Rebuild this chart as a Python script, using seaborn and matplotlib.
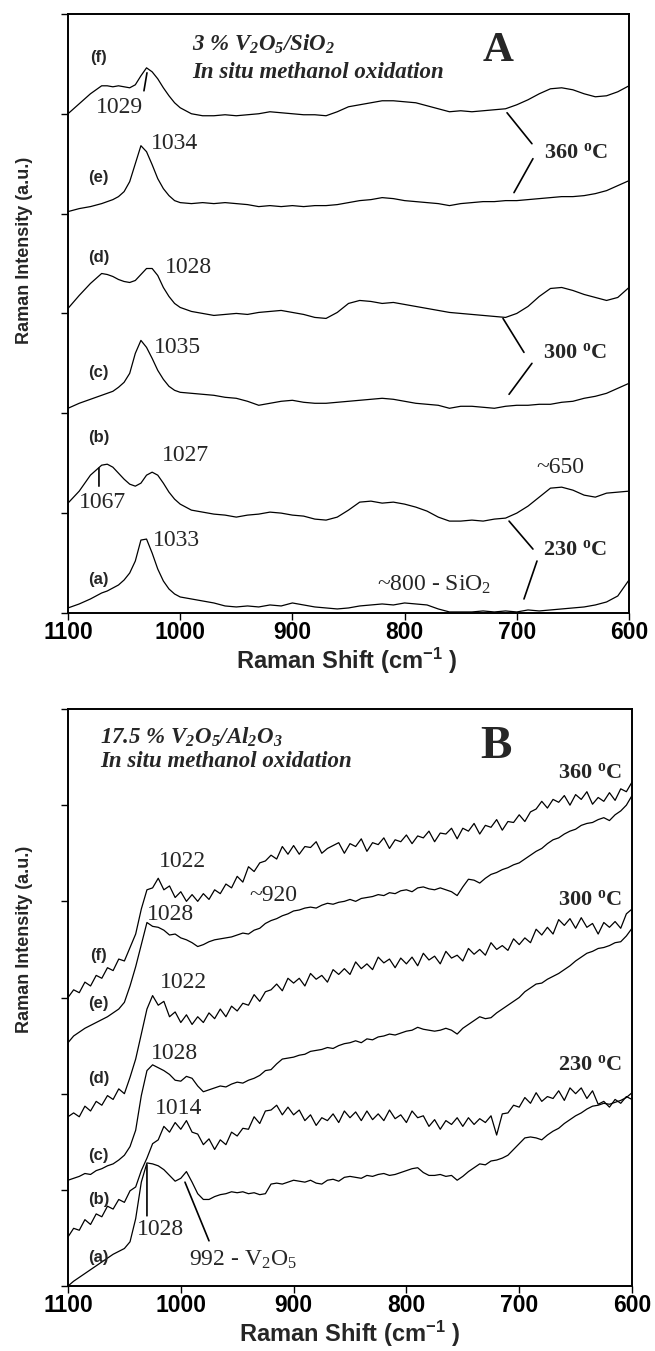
import matplotlib
matplotlib.use('Agg')
import matplotlib.pyplot as plt
from matplotlib import font_manager
import seaborn as sns
import pandas as pd

sns.set_theme(style='ticks')
plt.rcParams['font.family'] = ['Liberation Sans', 'DejaVu Sans']

# ---------------- panel A : 3 % V2O5/SiO2 ----------------
# Raman shift grid (cm-1) the spectra were read at
WA = [1100, 1090, 1080, 1070,
      1065, 1060, 1055, 1050, 1045, 1040, 1035, 1030, 1025, 1020, 1015, 1010, 1005, 1000,
      990, 980, 970, 960, 950, 940, 930, 920, 910, 900,
      890, 880, 870, 860, 850, 840, 830, 820, 810, 800,
      790, 780, 770, 760, 750, 740, 730, 720, 710, 700,
      690, 680, 670, 660, 650, 640, 630, 620, 610, 600]

A_a = [0.05, 0.09, 0.14, 0.20,
       0.22, 0.25, 0.28, 0.33, 0.40, 0.52, 0.73, 0.74, 0.60, 0.44, 0.32, 0.24, 0.19, 0.16,
       0.14, 0.12, 0.10, 0.07, 0.06, 0.07, 0.06, 0.08, 0.07, 0.10,
       0.08, 0.06, 0.05, 0.04, 0.05, 0.07, 0.08, 0.09, 0.08, 0.10,
       0.09, 0.08, 0.04, 0.01, 0.01, 0.01, 0.02, 0.01, 0.02, 0.01,
       0.03, 0.02, 0.03, 0.04, 0.05, 0.06, 0.08, 0.11, 0.17, 0.33]
A_b = [1.10, 1.22, 1.38, 1.48,
       1.49, 1.46, 1.40, 1.34, 1.29, 1.27, 1.30, 1.38, 1.41, 1.38, 1.30, 1.21, 1.14, 1.09,
       1.03, 1.01, 0.99, 0.98, 0.96, 0.98, 0.99, 1.01, 1.00, 0.98,
       0.97, 0.94, 0.93, 0.96, 1.03, 1.11, 1.12, 1.10, 1.11, 1.09,
       1.06, 1.02, 0.96, 0.92, 0.92, 0.93, 0.92, 0.94, 0.95, 1.00,
       1.07, 1.16, 1.25, 1.26, 1.23, 1.18, 1.16, 1.20, 1.21, 1.22]
A_c = [2.05, 2.10, 2.14, 2.18,
       2.20, 2.22, 2.26, 2.31, 2.40, 2.60, 2.73, 2.66, 2.55, 2.43, 2.34, 2.27, 2.23, 2.21,
       2.20, 2.19, 2.18, 2.16, 2.15, 2.12, 2.08, 2.10, 2.12, 2.13,
       2.11, 2.10, 2.10, 2.11, 2.12, 2.13, 2.14, 2.15, 2.14, 2.12,
       2.10, 2.09, 2.08, 2.05, 2.07, 2.07, 2.06, 2.05, 2.07, 2.08,
       2.08, 2.09, 2.09, 2.11, 2.12, 2.15, 2.17, 2.20, 2.25, 2.30]
A_d = [3.05, 3.18, 3.30, 3.40,
       3.39, 3.37, 3.34, 3.32, 3.31, 3.33, 3.39, 3.45, 3.45, 3.38, 3.26, 3.17, 3.10, 3.06,
       3.02, 3.00, 2.98, 2.99, 3.00, 2.99, 3.01, 3.02, 3.03, 3.01,
       2.99, 2.96, 2.95, 3.01, 3.10, 3.13, 3.12, 3.10, 3.11, 3.09,
       3.07, 3.05, 3.03, 3.01, 3.00, 2.99, 2.98, 2.97, 2.96, 3.00,
       3.07, 3.17, 3.25, 3.26, 3.23, 3.19, 3.16, 3.13, 3.16, 3.26]
A_e = [4.02, 4.05, 4.07, 4.10,
       4.12, 4.14, 4.17, 4.22, 4.32, 4.50, 4.68, 4.62, 4.49, 4.35, 4.25, 4.18, 4.13, 4.11,
       4.10, 4.11, 4.10, 4.11, 4.10, 4.09, 4.07, 4.08, 4.07, 4.08,
       4.07, 4.08, 4.08, 4.09, 4.11, 4.13, 4.14, 4.16, 4.15, 4.13,
       4.12, 4.11, 4.10, 4.08, 4.10, 4.11, 4.12, 4.12, 4.13, 4.13,
       4.14, 4.15, 4.16, 4.17, 4.17, 4.18, 4.20, 4.23, 4.28, 4.33]
A_f = [5.00, 5.10, 5.20, 5.28,
       5.28, 5.27, 5.28, 5.27, 5.26, 5.29, 5.38, 5.46, 5.42, 5.35, 5.26, 5.18, 5.11, 5.06,
       5.00, 4.98, 4.98, 4.99, 4.98, 4.99, 5.00, 5.02, 5.01, 5.00,
       4.99, 4.99, 4.98, 5.02, 5.07, 5.09, 5.11, 5.13, 5.13, 5.12,
       5.11, 5.08, 5.05, 5.02, 5.03, 5.02, 5.03, 5.04, 5.05, 5.09,
       5.14, 5.20, 5.25, 5.26, 5.24, 5.20, 5.17, 5.18, 5.22, 5.28]

# ---------------- panel B : 17.5 % V2O5/Al2O3 ----------------
WB = [1100, 1095, 1090, 1085, 1080, 1075, 1070, 1065, 1060, 1055,
      1050, 1045, 1040, 1035, 1030, 1025, 1020, 1015, 1010, 1005,
      1000, 995, 990, 985, 980, 975, 970, 965, 960, 955,
      950, 945, 940, 935, 930, 925, 920, 915, 910, 905,
      900, 895, 890, 885, 880, 875, 870, 865, 860, 855,
      850, 845, 840, 835, 830, 825, 820, 815, 810, 805,
      800, 795, 790, 785, 780, 775, 770, 765, 760, 755,
      750, 745, 740, 735, 730, 725, 720, 715, 710, 705,
      700, 695, 690, 685, 680, 675, 670, 665, 660, 655,
      650, 645, 640, 635, 630, 625, 620, 615, 610, 605,
      600]

B_a = [0.00, 0.05, 0.09, 0.13, 0.17, 0.21, 0.25, 0.29, 0.33, 0.36,
       0.39, 0.46, 0.70, 1.08, 1.28, 1.27, 1.25, 1.21, 1.15, 1.09,
       1.12, 1.19, 1.08, 0.96, 0.90, 0.90, 0.93, 0.95, 0.96, 0.98,
       0.97, 0.98, 0.96, 0.97, 0.95, 0.96, 1.06, 1.07, 1.06, 1.08,
       1.10, 1.09, 1.08, 1.10, 1.07, 1.06, 1.10, 1.11, 1.09, 1.13,
       1.14, 1.13, 1.12, 1.15, 1.14, 1.16, 1.17, 1.15, 1.16, 1.18,
       1.20, 1.22, 1.23, 1.18, 1.15, 1.15, 1.16, 1.14, 1.15, 1.10,
       1.14, 1.19, 1.23, 1.27, 1.26, 1.30, 1.31, 1.33, 1.36, 1.42,
       1.48, 1.54, 1.55, 1.54, 1.52, 1.57, 1.61, 1.64, 1.69, 1.73,
       1.77, 1.80, 1.84, 1.87, 1.88, 1.90, 1.89, 1.91, 1.93, 1.96,
       2.01]
B_b = [0.51, 0.60, 0.58, 0.69, 0.64, 0.75, 0.72, 0.83, 0.80, 0.90,
       0.87, 0.99, 1.03, 1.20, 1.33, 1.48, 1.52, 1.66, 1.60, 1.70,
       1.63, 1.72, 1.60, 1.58, 1.47, 1.53, 1.42, 1.52, 1.47, 1.60,
       1.56, 1.64, 1.63, 1.76, 1.69, 1.82, 1.83, 1.88, 1.78, 1.86,
       1.78, 1.83, 1.72, 1.78, 1.67, 1.75, 1.72, 1.79, 1.70, 1.82,
       1.75, 1.81, 1.72, 1.82, 1.73, 1.79, 1.72, 1.83, 1.74, 1.78,
       1.70, 1.82, 1.75, 1.77, 1.66, 1.73, 1.63, 1.72, 1.68, 1.75,
       1.66, 1.75, 1.68, 1.74, 1.70, 1.77, 1.57, 1.79, 1.80, 1.88,
       1.86, 1.96, 1.90, 2.01, 1.92, 1.97, 1.95, 2.03, 1.93, 2.06,
       2.00, 2.06, 1.95, 2.03, 1.89, 1.92, 1.86, 1.94, 1.90, 1.97,
       1.94]
B_c = [1.10, 1.12, 1.14, 1.17, 1.16, 1.20, 1.22, 1.25, 1.27, 1.31,
       1.36, 1.45, 1.62, 1.98, 2.24, 2.30, 2.27, 2.24, 2.20, 2.14,
       2.13, 2.18, 2.16, 2.08, 2.02, 2.04, 2.06, 2.08, 2.07, 2.10,
       2.12, 2.11, 2.14, 2.16, 2.19, 2.24, 2.25, 2.31, 2.36, 2.37,
       2.38, 2.40, 2.41, 2.44, 2.45, 2.46, 2.48, 2.47, 2.50, 2.52,
       2.53, 2.55, 2.53, 2.57, 2.56, 2.59, 2.60, 2.62, 2.61, 2.63,
       2.65, 2.66, 2.69, 2.67, 2.66, 2.65, 2.66, 2.68, 2.66, 2.62,
       2.68, 2.72, 2.76, 2.80, 2.78, 2.79, 2.84, 2.88, 2.92, 2.96,
       3.00, 3.06, 3.10, 3.14, 3.15, 3.19, 3.22, 3.25, 3.29, 3.33,
       3.38, 3.42, 3.46, 3.48, 3.51, 3.52, 3.54, 3.57, 3.58, 3.64,
       3.72]
B_d = [1.76, 1.80, 1.76, 1.87, 1.82, 1.92, 1.88, 1.98, 1.94, 2.05,
       2.00, 2.17, 2.36, 2.62, 2.88, 3.02, 2.92, 2.96, 2.80, 2.85,
       2.74, 2.82, 2.72, 2.80, 2.74, 2.84, 2.78, 2.88, 2.80, 2.91,
       2.86, 2.94, 2.92, 3.03, 2.96, 3.06, 3.08, 3.14, 3.07, 3.20,
       3.15, 3.20, 3.12, 3.25, 3.19, 3.23, 3.16, 3.29, 3.24, 3.30,
       3.24, 3.37, 3.30, 3.35, 3.29, 3.42, 3.36, 3.40, 3.31, 3.41,
       3.35, 3.42, 3.33, 3.46, 3.39, 3.43, 3.35, 3.48, 3.41, 3.44,
       3.38, 3.51, 3.45, 3.50, 3.44, 3.57, 3.50, 3.54, 3.49, 3.61,
       3.55, 3.62, 3.57, 3.71, 3.65, 3.73, 3.66, 3.81, 3.75, 3.82,
       3.72, 3.83, 3.73, 3.77, 3.66, 3.78, 3.73, 3.79, 3.72, 3.87,
       3.92]
B_e = [2.53, 2.60, 2.64, 2.68, 2.71, 2.74, 2.77, 2.80, 2.84, 2.88,
       2.95, 3.12, 3.32, 3.55, 3.78, 3.74, 3.73, 3.70, 3.65, 3.66,
       3.62, 3.60, 3.57, 3.53, 3.55, 3.58, 3.60, 3.61, 3.62, 3.63,
       3.65, 3.67, 3.66, 3.70, 3.72, 3.77, 3.80, 3.82, 3.85, 3.87,
       3.90, 3.91, 3.93, 3.94, 3.93, 3.96, 3.98, 3.97, 3.99, 4.00,
       4.02, 4.00, 4.03, 4.04, 4.05, 4.07, 4.06, 4.09, 4.08, 4.11,
       4.12, 4.10, 4.14, 4.15, 4.13, 4.12, 4.14, 4.12, 4.10, 4.06,
       4.15, 4.23, 4.22, 4.19, 4.24, 4.28, 4.30, 4.33, 4.35, 4.38,
       4.40, 4.44, 4.48, 4.52, 4.55, 4.60, 4.64, 4.66, 4.70, 4.73,
       4.75, 4.79, 4.81, 4.82, 4.85, 4.87, 4.84, 4.90, 4.94, 5.00,
       5.10]
B_f = [3.00, 3.08, 3.05, 3.16, 3.12, 3.23, 3.20, 3.31, 3.28, 3.40,
       3.38, 3.52, 3.66, 3.92, 4.12, 4.14, 4.24, 4.12, 4.16, 4.04,
       4.10, 4.00, 4.07, 4.00, 4.08, 4.02, 4.12, 4.08, 4.18, 4.14,
       4.26, 4.20, 4.36, 4.31, 4.40, 4.42, 4.48, 4.44, 4.57, 4.49,
       4.58, 4.49, 4.57, 4.56, 4.62, 4.50, 4.55, 4.58, 4.61, 4.50,
       4.60, 4.57, 4.65, 4.52, 4.61, 4.59, 4.66, 4.55, 4.64, 4.62,
       4.69, 4.60, 4.68, 4.66, 4.73, 4.62, 4.71, 4.70, 4.76, 4.65,
       4.76, 4.73, 4.81, 4.70, 4.79, 4.77, 4.85, 4.74, 4.83, 4.82,
       4.90, 4.83, 4.93, 4.96, 5.04, 4.97, 5.06, 5.03, 5.10, 5.00,
       5.11, 5.06, 5.14, 5.01, 5.08, 5.04, 5.13, 5.05, 5.17, 5.14,
       5.24]

TRACES = ['a', 'b', 'c', 'd', 'e', 'f']


def long_frame(shift, spectra):
    rows = []
    for name, vals in zip(TRACES, spectra):
        rows.append(pd.DataFrame({'shift': shift, 'intensity': vals, 'trace': name}))
    return pd.concat(rows, ignore_index=True)


dfA = long_frame(WA, [A_a, A_b, A_c, A_d, A_e, A_f])
dfB = long_frame(WB, [B_a, B_b, B_c, B_d, B_e, B_f])

SERIF = ['Liberation Serif', 'DejaVu Serif']
SANS = ['Liberation Sans', 'DejaVu Sans']
installed = {f.name for f in font_manager.fontManager.ttflist}
if 'Liberation Sans Narrow' in installed:
    YLAB_FONT, YLAB_SIZE = ['Liberation Sans Narrow', 'DejaVu Sans'], 15
else:
    YLAB_FONT, YLAB_SIZE = SANS, 13

fig = plt.figure(figsize=(6.55, 13.51), dpi=100)
axA = fig.add_axes([0.1038, 0.5463, 0.8565, 0.4434])
axB = fig.add_axes([0.1038, 0.0481, 0.8611, 0.4271])

for ax, df in [(axA, dfA), (axB, dfB)]:
    sns.lineplot(data=df, x='shift', y='intensity', units='trace', estimator=None,
                 sort=False, color='black', linewidth=0.9, ax=ax)
    ax.set_xlim(1100, 600)
    ax.set_ylim(0, 6)
    ax.set_xticks([1100, 1000, 900, 800, 700, 600])
    ax.set_xticklabels(['1100', '1000', '900', '800', '700', '600'],
                       fontsize=16.5, fontweight='bold', family=SANS)
    ax.set_yticks(range(7))
    ax.set_yticklabels([])
    ax.tick_params(axis='x', direction='out', length=5, width=1, pad=1, colors='black')
    ax.tick_params(axis='y', direction='out', length=5, width=1, colors='black')
    for s in ax.spines.values():
        s.set_visible(True)
        s.set_linewidth(1.4)
        s.set_color('black')
    ax.set_xlabel('Raman Shift (cm$\\mathregular{^{-1}}$ )', fontsize=17,
                  fontweight='bold', family=SANS)
    ax.xaxis.label.set_va('center')
    ax.set_ylabel('Raman Intensity (a.u.)', fontsize=YLAB_SIZE, fontweight='bold',
                  family=YLAB_FONT)
    ax.yaxis.label.set_va('center')

axA.xaxis.set_label_coords(0.497, -0.0795)
axA.yaxis.set_label_coords(-0.077, 0.606)
axB.xaxis.set_label_coords(0.50, -0.083)
axB.yaxis.set_label_coords(-0.077, 0.60)


def tag(ax, x, y, s):
    ax.text(x, y, s, fontsize=12, fontweight='bold', family=SANS, ha='center', va='center')


def peak(ax, x, y, s, size=17):
    ax.text(x, y, s, fontsize=size, family=SERIF, ha='center', va='center')


def temp(ax, x, y, s, ha='center'):
    ax.text(x, y, s, fontsize=16, fontweight='bold', family=SERIF, ha=ha, va='center')


def pointer(ax, p0, p1):
    ax.annotate('', xy=p1, xytext=p0,
                arrowprops=dict(arrowstyle='-', color='black', lw=1.2, shrinkA=0, shrinkB=0))


def title(ax, x, y0, y1, line1):
    ax.text(x, y0, line1, fontsize=16.5, fontweight='bold', style='italic',
            family=SERIF, ha='left', va='center')
    ax.text(x, y1, 'In situ methanol oxidation', fontsize=16.5, fontweight='bold',
            style='italic', family=SERIF, ha='left', va='center')


DEG = '$\\mathregular{^o}$C'

# panel A annotations
for y, s in zip([0.34, 1.76, 2.41, 3.56, 4.36, 5.56], ['(a)', '(b)', '(c)', '(d)', '(e)', '(f)']):
    tag(axA, 1072.5, y, s)
peak(axA, 1054.5, 5.06, '1029')
peak(axA, 1004.6, 4.70, '1034')
peak(axA, 993, 3.46, '1028')
peak(axA, 1002, 2.66, '1035')
peak(axA, 995.7, 1.58, '1027')
peak(axA, 1069.7, 1.11, '1067')
peak(axA, 1002.9, 0.73, '1033')
peak(axA, 661.5, 1.46, '~650')
peak(axA, 773.8, 0.28, '~800 - SiO$\\mathregular{_2}$')
pointer(axA, (1032.3, 5.23), (1029.6, 5.41))
pointer(axA, (1072.4, 1.45), (1072.4, 1.27))
temp(axA, 647, 4.61, '360 ' + DEG)
temp(axA, 648, 2.60, '300 ' + DEG)
temp(axA, 648, 0.63, '230 ' + DEG)
pointer(axA, (708.7, 5.01), (686.5, 4.70))
pointer(axA, (685.6, 4.55), (702.5, 4.21))
pointer(axA, (712.3, 2.95), (693.6, 2.61))
pointer(axA, (686.5, 2.50), (706.9, 2.19))
pointer(axA, (706.9, 0.92), (685.6, 0.64))
pointer(axA, (682.0, 0.52), (693.6, 0.14))
title(axA, 989.5, 5.70, 5.41,
      '3 % V$\\mathregular{_2}$O$\\mathregular{_5}$/SiO$\\mathregular{_2}$')
axA.text(716.8, 5.63, 'A', fontsize=31, fontweight='bold', family=SERIF,
         ha='center', va='center')

# panel B annotations
for y, s in zip([0.30, 0.90, 1.36, 2.16, 2.94, 3.44], ['(a)', '(b)', '(c)', '(d)', '(e)', '(f)']):
    tag(axB, 1072.8, y, s)
peak(axB, 998.9, 4.41, '1022')
peak(axB, 918.3, 4.06, '~920')
peak(axB, 1008.7, 3.86, '1028')
peak(axB, 998.0, 3.16, '1022')
peak(axB, 1006.0, 2.42, '1028')
peak(axB, 1001.6, 1.85, '1014')
peak(axB, 1017.6, 0.59, '1028')
peak(axB, 944.9, 0.27, '992 - V$\\mathregular{_2}$O$\\mathregular{_5}$')
pointer(axB, (1030, 1.26), (1030, 0.73))
pointer(axB, (996.3, 1.08), (975, 0.47))
temp(axB, 609, 5.33, '360 ' + DEG, ha='right')
temp(axB, 609, 4.01, '300 ' + DEG, ha='right')
temp(axB, 609, 2.30, '230 ' + DEG, ha='right')
title(axB, 1071.6, 5.71, 5.45,
      '17.5 % V$\\mathregular{_2}$O$\\mathregular{_5}$/Al$\\mathregular{_2}$O$\\mathregular{_3}$')
axB.text(720.6, 5.60, 'B', fontsize=34, fontweight='bold', family=SERIF,
         ha='center', va='center')

fig.savefig('out.png', dpi=100)
